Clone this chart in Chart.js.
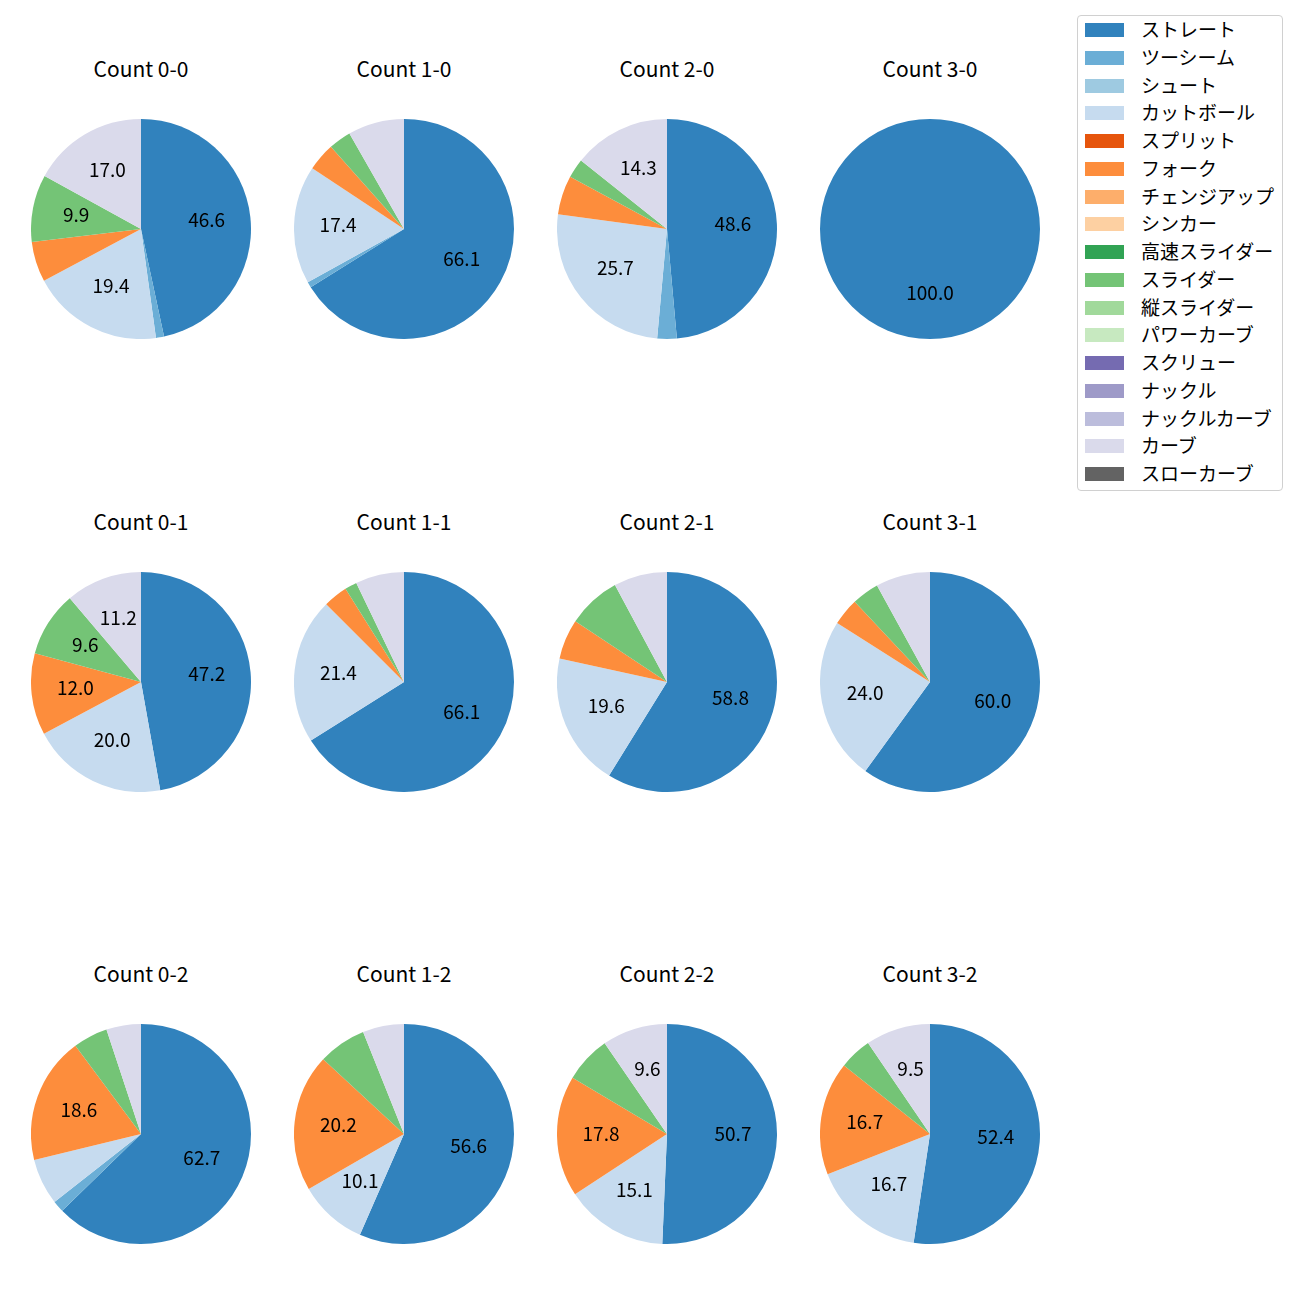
<!DOCTYPE html>
<html>
<head>
<meta charset="utf-8">
<script src="https://cdn.jsdelivr.net/npm/chart.js@4.4.1/dist/chart.umd.min.js"></script>
<style>
  html, body { margin:0; padding:0; background:#fff; }
  body { width:1300px; height:1300px; position:relative; overflow:hidden;
         font-family:"Noto Sans CJK JP","Noto Sans",sans-serif; color:#000; }
  .title { position:absolute; width:260px; text-align:center; font-size:21px; line-height:24px; }
  canvas.pie { position:absolute; }
  #legend { position:absolute; left:1077px; top:15px; width:206px; height:476px;
            border:1px solid #d0d0d0; border-radius:4px; box-sizing:border-box; background:#fff; }
  .item { position:absolute; left:7px; height:20px; font-size:19px; line-height:20px; white-space:nowrap; }
  .sw { position:absolute; left:0; top:3px; width:39px; height:14px; }
  .lt { position:absolute; left:56px; top:-1px; }
</style>
</head>
<body>
<div id="legend"></div>
<script>
// Pitch types (legend order) and colours
const pitchTypes = ["ストレート","ツーシーム","シュート","カットボール","スプリット","フォーク","チェンジアップ","シンカー","高速スライダー","スライダー","縦スライダー","パワーカーブ","スクリュー","ナックル","ナックルカーブ","カーブ","スローカーブ"];
const pitchColors = ["#3182bd","#6baed6","#9ecae1","#c6dbef","#e6550d","#fd8d3c","#fdae6b","#fdd0a2","#31a354","#74c476","#a1d99b","#c7e9c0","#756bb1","#9e9ac8","#bcbddc","#dadaeb","#636363"];

// Pitch counts per ball-strike count (same order as pitchTypes)
const count00 = [118,3,0,49,0,15,0,0,0,25,0,0,0,0,0,43,0];
const count10 = [80,1,0,21,0,5,0,0,0,4,0,0,0,0,0,10,0];
const count20 = [17,1,0,9,0,2,0,0,0,1,0,0,0,0,0,5,0];
const count30 = [5,0,0,0,0,0,0,0,0,0,0,0,0,0,0,0,0];
const count01 = [59,0,0,25,0,15,0,0,0,12,0,0,0,0,0,14,0];
const count11 = [37,0,0,12,0,2,0,0,0,1,0,0,0,0,0,4,0];
const count21 = [30,0,0,10,0,3,0,0,0,4,0,0,0,0,0,4,0];
const count31 = [15,0,0,6,0,1,0,0,0,1,0,0,0,0,0,2,0];
const count02 = [37,1,0,4,0,11,0,0,0,3,0,0,0,0,0,3,0];
const count12 = [56,0,0,10,0,20,0,0,0,7,0,0,0,0,0,6,0];
const count22 = [37,0,0,11,0,13,0,0,0,5,0,0,0,0,0,7,0];
const count32 = [22,0,0,7,0,7,0,0,0,2,0,0,0,0,0,4,0];

const countTitles = ["Count 0-0","Count 1-0","Count 2-0","Count 3-0",
                     "Count 0-1","Count 1-1","Count 2-1","Count 3-1",
                     "Count 0-2","Count 1-2","Count 2-2","Count 3-2"];
const countData = [count00,count10,count20,count30,count01,count11,count21,count31,count02,count12,count22,count32];

const labelThreshold = 9; // percent labels shown only for slices >= this

// layout
const colX = [141, 404, 667, 930];
const rowY = [229, 682, 1134];
const R = 110;

// legend
const legend = document.getElementById('legend');
pitchTypes.forEach((name, i) => {
  const d = document.createElement('div');
  d.className = 'item';
  d.style.top = (4 + i * 27.75) + 'px';
  d.innerHTML = '<span class="sw" style="background:' + pitchColors[i] + '"></span><span class="lt">' + name + '</span>';
  legend.appendChild(d);
});

const pctLabels = {
  id: 'pctLabels',
  afterDatasetsDraw(chart) {
    const ctx = chart.ctx;
    const ds = chart.data.datasets[0].data;
    const total = ds.reduce((a, b) => a + b, 0);
    const meta = chart.getDatasetMeta(0);
    ctx.save();
    ctx.font = '19px "Noto Sans CJK JP", "Noto Sans", sans-serif';
    ctx.fillStyle = '#000';
    ctx.textAlign = 'center';
    ctx.textBaseline = 'middle';
    meta.data.forEach((arc, i) => {
      const v = ds[i];
      if (!v) return;
      const pct = v / total * 100;
      if (pct < labelThreshold) return;
      const p = arc.getProps(['x','y','startAngle','endAngle','outerRadius'], true);
      const mid = (p.startAngle + p.endAngle) / 2;
      const r = p.outerRadius * 0.6;
      ctx.fillText(pct.toFixed(1), p.x + Math.cos(mid) * r, p.y + Math.sin(mid) * r - 2);
    });
    ctx.restore();
  }
};

countData.forEach((vals, k) => {
  const cx = colX[k % 4], cy = rowY[Math.floor(k / 4)];
  const t = document.createElement('div');
  t.className = 'title';
  t.style.left = (cx - 130) + 'px';
  t.style.top = (cy - 173) + 'px';
  t.textContent = countTitles[k];
  document.body.appendChild(t);

  const c = document.createElement('canvas');
  c.className = 'pie';
  c.width = 2 * R; c.height = 2 * R;
  c.style.left = (cx - R) + 'px';
  c.style.top = (cy - R) + 'px';
  c.style.width = (2 * R) + 'px';
  c.style.height = (2 * R) + 'px';
  document.body.appendChild(c);

  new Chart(c.getContext('2d'), {
    type: 'pie',
    data: {
      labels: pitchTypes,
      datasets: [{ data: vals, backgroundColor: pitchColors, borderWidth: 0 }]
    },
    options: {
      responsive: false,
      animation: false,
      devicePixelRatio: 1,
      events: [],
      layout: { padding: 0 },
      plugins: { legend: { display: false }, tooltip: { enabled: false }, title: { display: false } }
    },
    plugins: [pctLabels]
  });
});
</script>
</body>
</html>
